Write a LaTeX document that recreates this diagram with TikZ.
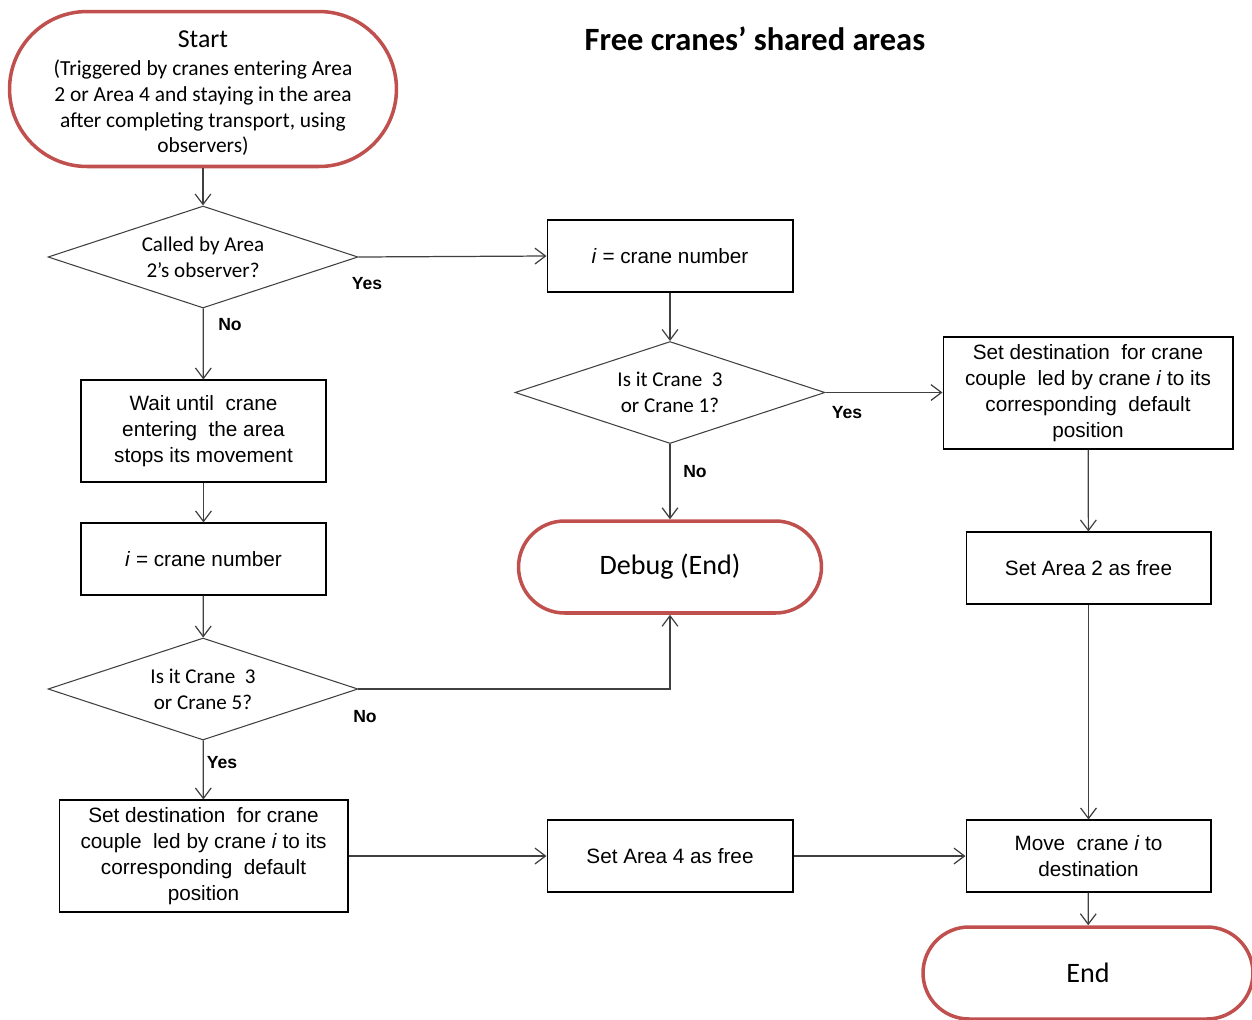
\documentclass[tikz,border=0pt]{standalone}
\usepackage{fontspec}
\setmainfont{Liberation Sans}
\newfontfamily\calfont{Carlito}
\usetikzlibrary{shapes.geometric,arrows.meta}
\definecolor{termred}{HTML}{C0504D}
\definecolor{linegray}{HTML}{404040}
\tikzset{
  boxtext/.style={font=\fontsize{11.8}{14.7}\selectfont, align=center},
  procbox/.style={draw=black, line width=0.6pt, rectangle, inner sep=0pt, boxtext},
  decision/.style={draw=linegray, line width=0.6pt, diamond, aspect=3, inner sep=0pt,
     minimum width=6.2cm, minimum height=2.04cm, align=center,
     font=\calfont\fontsize{12}{14.7}\selectfont},
  terminal/.style={draw=termred, line width=2pt, rectangle, inner sep=0pt, align=center,
     font=\calfont\fontsize{16}{19}\selectfont},
  conn/.style={draw=linegray, line width=0.7pt, -{Straight Barb[length=6pt,width=9pt]}},
  lbl/.style={font=\bfseries\fontsize{10}{12}\selectfont, inner sep=0pt},
}
\begin{document}
\begin{tikzpicture}[x=0.02cm, y=-0.02cm]
\useasboundingbox (0,0) rectangle (1252,1019);
% title
\node[font=\calfont\bfseries\fontsize{18.5}{22}\selectfont] (title) at (755,39) {Free cranes’ shared areas};
% nodes
\node[terminal, font=\calfont\fontsize{12.2}{14.6}\selectfont, minimum width=7.74cm, minimum height=3.10cm, rounded corners=1.55cm] (start) at (203,89)
  {{\fontsize{14.7}{17}\selectfont \rule{0pt}{14.5pt}Start}\\[1.5pt]
   (Triggered by cranes entering Area\\
   2 or Area 4 and staying in the area\\
   after completing transport, using\\
   observers)};
\node[decision] (d1) at (203,257) {Called by Area\\2’s observer?};
\node[procbox, minimum width=4.92cm, minimum height=1.44cm] (b1) at (670,256) {\textit{i} = crane number};
\node[decision] (d2) at (670,392.5) {Is it Crane\ \ 3\\or Crane 1?};
\node[procbox, minimum width=5.8cm, minimum height=2.24cm] (sdR) at (1088,393)
  {Set destination\ \ for crane\\couple\ \ led by crane \textit{i} to its\\corresponding\ \ default\\position};
\node[procbox, minimum width=4.9cm, minimum height=2.04cm] (wait) at (203.5,431)
  {Wait until\ \ crane\\entering\ \ the area\\stops its movement};
\node[procbox, minimum width=4.9cm, minimum height=1.44cm] (b2) at (203.5,559) {\textit{i} = crane number};
\node[terminal, minimum width=6.06cm, minimum height=1.84cm, rounded corners=0.92cm] (debug) at (670,567) {Debug (End)};
\node[procbox, minimum width=4.9cm, minimum height=1.44cm] (a2) at (1088.5,568) {Set Area 2 as free};
\node[decision] (d3) at (203,689) {Is it Crane\ \ 3\\or Crane 5?};
\node[procbox, minimum width=5.78cm, minimum height=2.24cm] (sdL) at (203.5,856)
  {Set destination\ \ for crane\\couple\ \ led by crane \textit{i} to its\\corresponding\ \ default\\position};
\node[procbox, minimum width=4.92cm, minimum height=1.44cm] (a4) at (670,856) {Set Area 4 as free};
\node[procbox, minimum width=4.9cm, minimum height=1.44cm] (move) at (1088.5,856) {Move\ \ crane \textit{i} to\\destination};
\node[terminal, minimum width=6.6cm, minimum height=1.84cm, rounded corners=0.92cm] (end) at (1088,973) {End};
% connectors
\draw[conn] (start) -- (d1);
\draw[conn] (d1.east) -- (b1.west);
\draw[conn] (b1) -- (d2);
\draw[conn] (d2.east) -- (sdR.west |- d2.east);
\draw[conn] (d2) -- (debug);
\draw[conn] (sdR) -- (a2);
\draw[conn] (d1) -- (wait);
\draw[conn] (wait) -- (b2);
\draw[conn] (b2) -- (d3);
\draw[conn] (d3.east) -| (debug.south);
\draw[conn] (d3) -- (sdL);
\draw[conn] (sdL.east |- a4.west) -- (a4.west);
\draw[conn] (a4) -- (move);
\draw[conn] (a2.south -| move.north) -- (move.north);
\draw[conn] (move) -- (end);
% labels
\node[lbl] (y1) at (367,284) {Yes};
\node[lbl] (n1) at (230,325) {No};
\node[lbl] (y2) at (847,413) {Yes};
\node[lbl] (n2) at (695,472) {No};
\node[lbl] (n3) at (365,717) {No};
\node[lbl] (y3) at (222,763) {Yes};
\end{tikzpicture}
\end{document}
